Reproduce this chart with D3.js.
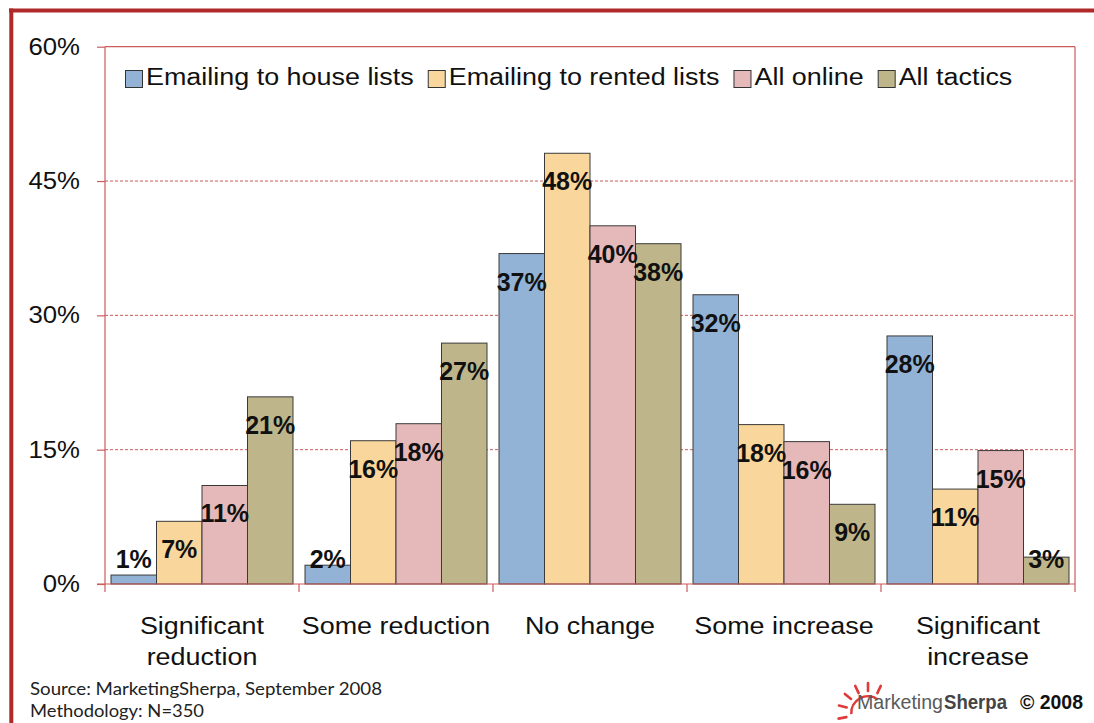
<!DOCTYPE html>
<html>
<head>
<meta charset="utf-8">
<script src="https://cdn.jsdelivr.net/npm/d3@7"></script>
<style>
    body { margin: 0; background: #fff; }
    svg { display: block; font-family: "Liberation Sans", Arial, sans-serif; }
</style>
</head>
<body>
<script>
// Chart data (percent of respondents)
var categories = ["Significant reduction", "Some reduction", "No change",
                  "Some increase", "Significant increase"];
var categoryLines = [["Significant", "reduction"], ["Some reduction"],
                     ["No change"], ["Some increase"],
                     ["Significant", "increase"]];
var seriesNames = ["Emailing to house lists", "Emailing to rented lists",
                   "All online", "All tactics"];
var houseLists = [1, 2.1, 36.9, 32.3, 27.7];
var rentedLists = [7, 16, 48.1, 17.8, 10.6];
var allOnline = [11, 17.9, 40, 15.9, 14.9];
var allTactics = [20.9, 26.9, 38, 8.9, 3];
var yTicks = [0, 15, 30, 45, 60];
var seriesColors = ["#93b3d6", "#f9d69c", "#e5b9ba", "#beb68a"];

var seriesValues = [houseLists, rentedLists, allOnline, allTactics];

// Margins around the plot area
var margin = {top: 46.7, right: 19, bottom: 139, left: 105},
    width = 1094 - margin.left - margin.right,
    height = 723 - margin.top - margin.bottom;

var svg = d3.select("body").append("svg")
    .attr("width", 1094)
    .attr("height", 723);

// Stretch text horizontally, the source picture is a bit wide
function stretch(sel, k) {
    sel.each(function() {
        var len = this.getComputedTextLength();
        d3.select(this)
            .attr("textLength", len * k)
            .attr("lengthAdjust", "spacingAndGlyphs");
    });
}

// Slide frame, thick dark red line on top and left
svg.append("line")
    .attr("x1", 9).attr("x2", 1094).attr("y1", 10.5).attr("y2", 10.5)
    .attr("stroke", "#b02a2a").attr("stroke-width", 4);
svg.append("line")
    .attr("x1", 11.3).attr("x2", 11.3).attr("y1", 8.5).attr("y2", 723)
    .attr("stroke", "#b02a2a").attr("stroke-width", 4);

var g = svg.append("g")
    .attr("transform", "translate(" + margin.left + "," + margin.top + ")");

// Scales: one band per category, a sub band per series
var x0 = d3.scaleBand().domain(categories).range([0, width]).padding(0);
var x1 = d3.scaleBand().domain(d3.range(seriesNames.length))
    .range([0, x0.bandwidth()]).paddingInner(0).paddingOuter(0.132);
var y = d3.scaleLinear().domain([0, 60]).range([height, 0]);

var axisColor = "#cc5c5c";

// Dashed gridlines
g.selectAll("line.grid")
    .data(yTicks.filter(function(d) { return d > 0 && d < 60; }))
    .enter().append("line")
    .attr("class", "grid")
    .attr("x1", 0).attr("x2", width)
    .attr("y1", function(d) { return y(d); })
    .attr("y2", function(d) { return y(d); })
    .attr("stroke", axisColor)
    .attr("stroke-width", 1)
    .attr("stroke-dasharray", "3,2");

// Plot border on top and right
g.append("line")
    .attr("x1", 0).attr("x2", width).attr("y1", y(60)).attr("y2", y(60))
    .attr("stroke", axisColor).attr("stroke-width", 1.2);
g.append("line")
    .attr("x1", width).attr("x2", width).attr("y1", 0).attr("y2", height + 8)
    .attr("stroke", axisColor).attr("stroke-width", 1.2);

// Bars
var groups = g.selectAll("g.cat")
    .data(categories)
    .enter().append("g")
    .attr("class", "cat")
    .attr("transform", function(d) { return "translate(" + x0(d) + ",0)"; });

groups.selectAll("rect")
    .data(function(d, ci) {
        return seriesValues.map(function(vals, si) {
            return {series: si, value: vals[ci]};
        });
    })
    .enter().append("rect")
    .attr("x", function(d) { return x1(d.series); })
    .attr("y", function(d) { return y(d.value); })
    .attr("width", x1.bandwidth())
    .attr("height", function(d) { return height - y(d.value); })
    .attr("fill", function(d) { return seriesColors[d.series]; })
    .attr("stroke", "#3a3a3a")
    .attr("stroke-width", 1);

// Y axis with percent ticks
var yAxis = d3.axisLeft(y).tickValues(yTicks).tickSize(8).tickPadding(17)
    .tickFormat(function(d) { return d + "%"; });
var yAxisG = g.append("g").call(yAxis);
yAxisG.select(".domain").remove();
yAxisG.selectAll(".tick line").attr("stroke", axisColor).attr("stroke-width", 1.2);
yAxisG.selectAll(".tick text")
    .attr("fill", "#111")
    .attr("font-size", "23px")
    .attr("font-family", "'Liberation Sans', Arial, sans-serif")
    .call(stretch, 1.12);

// Left axis line and bottom axis line
g.append("line")
    .attr("x1", 0).attr("x2", 0).attr("y1", 0).attr("y2", height + 8)
    .attr("stroke", axisColor).attr("stroke-width", 1.2);
g.append("line")
    .attr("x1", -8).attr("x2", width).attr("y1", height).attr("y2", height)
    .attr("stroke", axisColor).attr("stroke-width", 1.2);

// Category boundary ticks
g.selectAll("line.xtick")
    .data(categories.slice(1))
    .enter().append("line")
    .attr("class", "xtick")
    .attr("x1", function(d) { return x0(d); })
    .attr("x2", function(d) { return x0(d); })
    .attr("y1", height).attr("y2", height + 8)
    .attr("stroke", axisColor).attr("stroke-width", 1.2);

// Category labels, two lines where needed
var catText = g.selectAll("text.catlabel")
    .data(categories)
    .enter().append("text")
    .attr("class", "catlabel")
    .attr("text-anchor", "middle")
    .attr("font-size", "23px")
    .attr("fill", "#111");
catText.each(function(d, i) {
    var t = d3.select(this);
    categoryLines[i].forEach(function(line, li) {
        t.append("tspan")
            .attr("x", x0(d) + x0.bandwidth() / 2)
            .attr("y", height + 50 + li * 31)
            .text(line);
    });
});
catText.selectAll("tspan").call(stretch, 1.17);

// Value labels, bold, inside the top of each bar
groups.selectAll("text.val")
    .data(function(d, ci) {
        return seriesValues.map(function(vals, si) {
            return {series: si, value: vals[ci]};
        });
    })
    .enter().append("text")
    .attr("class", "val")
    .attr("text-anchor", "middle")
    .attr("x", function(d) { return x1(d.series) + x1.bandwidth() / 2; })
    .attr("y", function(d) { return Math.min(y(d.value) + 37, height - 16); })
    .attr("font-size", "25px")
    .attr("font-weight", "bold")
    .attr("fill", "#111")
    .text(function(d) { return Math.round(d.value) + "%"; });

// Legend across the top of the plot
var legend = svg.append("g").attr("transform", "translate(125,0)");
var lx = 0;
seriesNames.forEach(function(name, i) {
    legend.append("rect")
        .attr("x", lx + 0.5).attr("y", 70.5)
        .attr("width", 17).attr("height", 17)
        .attr("fill", seriesColors[i])
        .attr("stroke", "#333").attr("stroke-width", 1);
    var t = legend.append("text")
        .attr("x", lx + 21).attr("y", 85)
        .attr("font-size", "23px")
        .attr("fill", "#111")
        .text(name);
    var w = t.node().getComputedTextLength();
    t.attr("textLength", w * 1.17).attr("lengthAdjust", "spacingAndGlyphs");
    lx += 21 + w * 1.17 + 14;
});

// Source notes
svg.append("text")
    .attr("x", 30).attr("y", 695)
    .attr("font-family", "Lato, 'Open Sans', sans-serif")
    .attr("font-size", "18px")
    .attr("fill", "#222")
    .text("Source: MarketingSherpa, September 2008")
    .attr("textLength", 352).attr("lengthAdjust", "spacingAndGlyphs");
svg.append("text")
    .attr("x", 30).attr("y", 717)
    .attr("font-family", "Lato, 'Open Sans', sans-serif")
    .attr("font-size", "18px")
    .attr("fill", "#222")
    .text("Methodology: N=350")
    .attr("textLength", 174).attr("lengthAdjust", "spacingAndGlyphs");

// MarketingSherpa logo, sun and wordmark
var logo = svg.append("g").attr("transform", "translate(868,713)");
var arc = d3.arc().innerRadius(15.5).outerRadius(18)
    .startAngle(-Math.PI * 0.52).endAngle(Math.PI * 0.2);
logo.append("path").attr("d", arc()).attr("fill", "#e03a3a");
[-0.56, -0.42, -0.28, -0.14, 0.0, 0.14].forEach(function(a) {
    var ang = a * Math.PI;
    logo.append("line")
        .attr("x1", Math.sin(ang) * 22).attr("y1", -Math.cos(ang) * 22)
        .attr("x2", Math.sin(ang) * 30).attr("y2", -Math.cos(ang) * 30)
        .attr("stroke", "#e03a3a").attr("stroke-width", 2.6)
        .attr("stroke-linecap", "round");
});
svg.append("text")
    .attr("x", 857).attr("y", 709)
    .attr("font-size", "21px").attr("fill", "#5a5a5a")
    .text("Marketing")
    .attr("textLength", 86).attr("lengthAdjust", "spacingAndGlyphs");
svg.append("text")
    .attr("x", 944).attr("y", 709)
    .attr("font-size", "21px").attr("font-weight", "bold").attr("fill", "#444")
    .text("Sherpa")
    .attr("textLength", 63).attr("lengthAdjust", "spacingAndGlyphs");
svg.append("text")
    .attr("x", 1020).attr("y", 709)
    .attr("font-size", "20px").attr("font-weight", "bold").attr("fill", "#111")
    .text("\u00a9 2008")
    .attr("textLength", 63).attr("lengthAdjust", "spacingAndGlyphs");
</script>
</body>
</html>
